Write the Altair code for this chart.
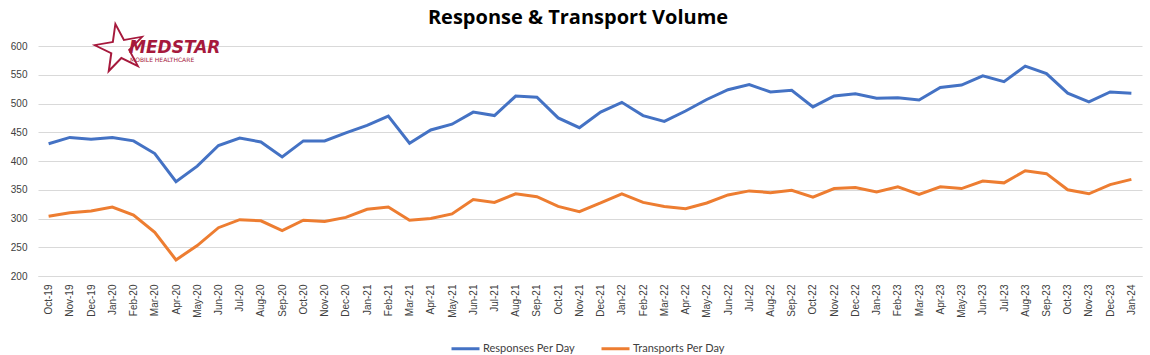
import altair as alt
import pandas as pd

months = ["Oct-19","Nov-19","Dec-19","Jan-20","Feb-20","Mar-20","Apr-20","May-20","Jun-20","Jul-20","Aug-20","Sep-20",
          "Oct-20","Nov-20","Dec-20","Jan-21","Feb-21","Mar-21","Apr-21","May-21","Jun-21","Jul-21","Aug-21","Sep-21",
          "Oct-21","Nov-21","Dec-21","Jan-22","Feb-22","Mar-22","Apr-22","May-22","Jun-22","Jul-22","Aug-22","Sep-22",
          "Oct-22","Nov-22","Dec-22","Jan-23","Feb-23","Mar-23","Apr-23","May-23","Jun-23","Jul-23","Aug-23","Sep-23",
          "Oct-23","Nov-23","Dec-23","Jan-24"]

responses = [430, 441, 438, 441, 435, 413, 364, 391, 427, 440, 433, 407,
             435, 435, 449, 462, 478, 431, 454, 464, 485, 479, 513, 511,
             475, 458, 485, 502, 479, 469, 487, 507, 524, 533, 520, 523,
             494, 513, 517, 509, 510, 506, 528, 532, 548, 538, 565, 552,
             518, 503, 520, 518]

transports = [304, 310, 313, 320, 306, 276, 228, 253, 284, 298, 296, 279,
              297, 295, 302, 316, 320, 297, 300, 308, 333, 328, 343, 338,
              321, 312, 327, 343, 328, 321, 317, 327, 341, 348, 345, 349,
              337, 352, 354, 346, 355, 342, 355, 352, 365, 362, 383, 378,
              350, 343, 359, 368]

series_names = ["Responses Per Day", "Transports Per Day"]
colors = ["#4472C4", "#ED7D31"]
y_ticks = [200, 250, 300, 350, 400, 450, 500, 550, 600]
chart_title = ["Response & Transport Volume"]
logo_name = ["MEDSTAR"]
logo_tagline = ["MOBILE HEALTHCARE"]
logo_star = ["☆"]

rows = []
for m, r, t in zip(months, responses, transports):
    rows.append({"Month": m, "Series": series_names[0], "Value": r})
    rows.append({"Month": m, "Series": series_names[1], "Value": t})
df = pd.DataFrame(rows)

AXFONT = "Liberation Sans"
LGFONT = "Lato"

lines = alt.Chart(df).mark_line(strokeWidth=3).encode(
    x=alt.X("Month:O", sort=months, title=None,
            scale=alt.Scale(type="point", padding=0.5),
            axis=alt.Axis(labelAngle=270, labelFontSize=10, labelColor="#404040", labelFont=AXFONT,
                          ticks=False, domain=True, domainColor="#d9d9d9", grid=False, labelPadding=8)),
    y=alt.Y("Value:Q", title=None,
            scale=alt.Scale(domain=[200, 600], nice=False, zero=False),
            axis=alt.Axis(values=y_ticks, labelFontSize=10, labelColor="#404040", labelFont=AXFONT,
                          ticks=False, domain=False, gridColor="#d9d9d9", labelPadding=11)),
    color=alt.Color("Series:N", sort=series_names,
                    scale=alt.Scale(domain=series_names, range=colors),
                    legend=alt.Legend(title=None, orient="none", legendX=412, legendY=287,
                                      direction="horizontal", symbolType="stroke",
                                      symbolSize=784, symbolStrokeWidth=3, labelFontSize=11,
                                      labelFont=LGFONT, labelColor="#404040", columnPadding=20,
                                      labelOffset=2))
)

title = alt.Chart(pd.DataFrame({"t": chart_title})).mark_text(
    fontSize=20, fontWeight="bold", font="Open Sans", color="#000000", baseline="middle", align="center"
).encode(x=alt.value(540), y=alt.value(-28), text="t:N")

star = alt.Chart(pd.DataFrame({"t": logo_star})).mark_text(
    fontSize=70, font="DejaVu Sans", color="#A6193C", align="center", baseline="middle", angle=350
).encode(x=alt.value(82), y=alt.value(4), text="t:N")

logo_text = alt.Chart(pd.DataFrame({"t": logo_name})).mark_text(
    fontSize=17, fontWeight="bold", fontStyle="italic", font="DejaVu Sans", color="#A6193C",
    align="left", baseline="middle"
).encode(x=alt.value(91), y=alt.value(2), text="t:N")

logo_sub = alt.Chart(pd.DataFrame({"t": logo_tagline})).mark_text(
    fontSize=6, font="DejaVu Sans", color="#A6193C", align="left", baseline="middle"
).encode(x=alt.value(92), y=alt.value(14), text="t:N")

chart = alt.layer(lines, title, star, logo_text, logo_sub).properties(
    width=1104, height=230,
    autosize=alt.AutoSizeParams(type="none"),
    padding={"left": 38, "top": 46, "right": 8, "bottom": 79},
    background="white"
).configure_view(stroke=None)

chart.save("out.html", embed_options={"renderer": "svg", "actions": False})
